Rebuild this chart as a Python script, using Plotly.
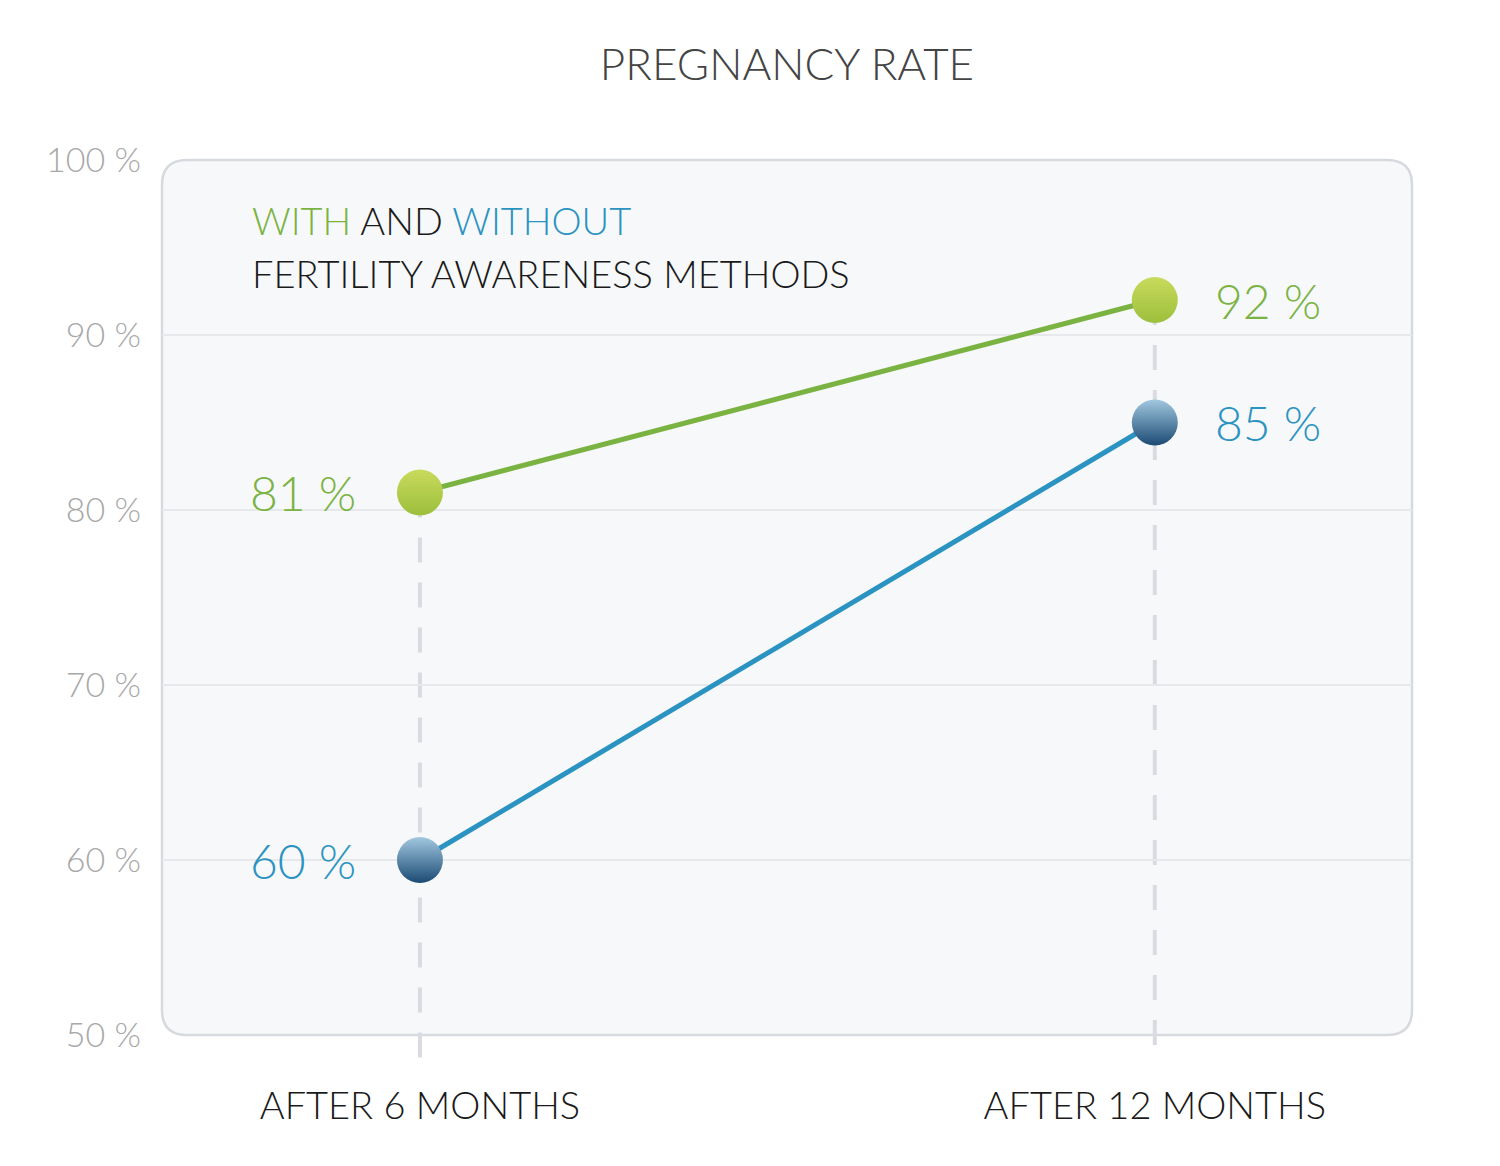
import plotly.graph_objects as go

# data
categories = ["AFTER 6 MONTHS", "AFTER 12 MONTHS"]
with_fam = [81, 92]
without_fam = [60, 85]
y_ticks = [50, 60, 70, 80, 90, 100]
y_tick_labels = [f"{v} %" for v in y_ticks]

GREEN = "#7ab342"
BLUE = "#2b93c1"
FONT = "Lato, 'Open Sans', sans-serif"

x_pos = list(range(len(categories)))
y_min, y_max = 50, 100

fig = go.Figure()

# rounded panel behind everything
rx, ry = 0.02, 0.0286
panel = (f"M {rx},0 L {1-rx},0 Q 1,0 1,{ry} L 1,{1-ry} Q 1,1 {1-rx},1 "
         f"L {rx},1 Q 0,1 0,{1-ry} L 0,{ry} Q 0,0 {rx},0 Z")
fig.add_shape(type="path", xref="paper", yref="paper", path=panel,
              fillcolor="#f7f8fa", line=dict(color="#d6d9dd", width=2.5),
              layer="below")

# dashed drop lines from the highest point of each category down below the axis
for xi in x_pos:
    top = max(with_fam[xi], without_fam[xi])
    fig.add_shape(type="line", xref="x", yref="paper",
                  x0=xi, x1=xi,
                  y0=(top - y_min) / (y_max - y_min), y1=-0.029,
                  line=dict(color="#d9dbe1", width=4, dash="25px,20px"),
                  layer="below")

fig.add_trace(go.Scatter(
    x=x_pos, y=with_fam, mode="lines+markers", name="With",
    line=dict(color=GREEN, width=5),
    marker=dict(size=46, color="#c9da5c",
                gradient=dict(type="vertical", color="#9cbf3c"),
                line=dict(width=0)),
    cliponaxis=False, hoverinfo="skip",
))
fig.add_trace(go.Scatter(
    x=x_pos, y=without_fam, mode="lines+markers", name="Without",
    line=dict(color=BLUE, width=5),
    marker=dict(size=46, color="#a2c8e0",
                gradient=dict(type="vertical", color="#1b4a74"),
                line=dict(width=0)),
    cliponaxis=False, hoverinfo="skip",
))

# value labels: left of first point, right of last point
for series, color in [(with_fam, GREEN), (without_fam, BLUE)]:
    fig.add_annotation(x=x_pos[0], y=series[0], text=f"{series[0]} %",
                       xanchor="right", xshift=-62, showarrow=False,
                       font=dict(family=FONT, size=48, color=color, weight=300))
    fig.add_annotation(x=x_pos[-1], y=series[-1], text=f"{series[-1]} %",
                       xanchor="left", xshift=58, showarrow=False,
                       font=dict(family=FONT, size=48, color=color, weight=300))

# legend-like heading inside the panel (two lines)
heading = [
    (f"<span style='color:{GREEN}'>WITH</span> AND "
     f"<span style='color:{BLUE}'>WITHOUT</span>", 0.9314),
    ("FERTILITY AWARENESS METHODS", 0.8709),
]
for text, ypos in heading:
    fig.add_annotation(
        xref="paper", yref="paper", x=0.07, y=ypos, xanchor="left", yanchor="middle",
        align="left", showarrow=False, text=text,
        font=dict(family=FONT, size=38, color="#1a1a1a", weight=300),
    )

fig.update_layout(
    width=1500, height=1166,
    margin=dict(l=154, r=96, t=152, b=139),
    paper_bgcolor="white", plot_bgcolor="rgba(0,0,0,0)",
    showlegend=False,
    title=dict(text="PREGNANCY RATE", x=(154 + 625) / 1500, xanchor="center",
               y=1 - 57 / 1166, yanchor="middle",
               font=dict(family=FONT, size=44, color="#444444", weight=300)),
    xaxis=dict(range=[-0.351, 1.35], tickvals=x_pos, ticktext=categories,
               showgrid=False, zeroline=False, showline=False, ticks="",
               ticklabelstandoff=45,
               tickfont=dict(family=FONT, size=38, color="#1a1a1a", weight=300)),
    yaxis=dict(range=[y_min, y_max], tickvals=y_ticks, ticktext=y_tick_labels,
               showgrid=True, gridcolor="#e6e8eb", gridwidth=1.5,
               zeroline=False, showline=False, ticks="",
               ticklabelstandoff=20,
               tickfont=dict(family=FONT, size=34, color="#a8a8a8", weight=300)),
)

fig.write_html("out.html")
